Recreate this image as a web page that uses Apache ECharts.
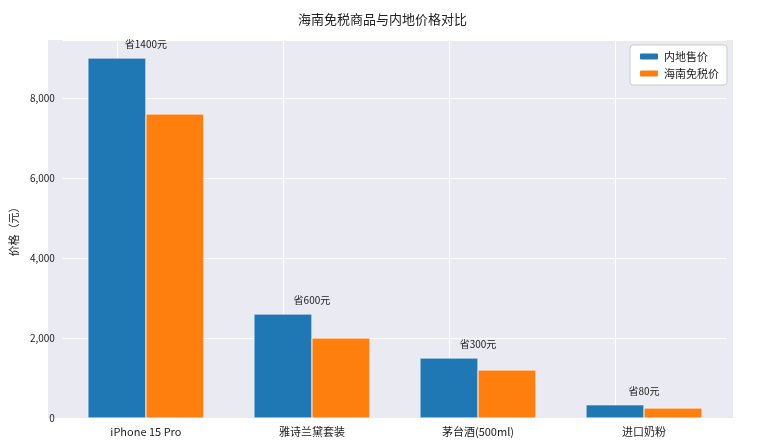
<!DOCTYPE html>
<html><head><meta charset="utf-8">
<script src="https://cdn.jsdelivr.net/npm/echarts@6/dist/echarts.min.js"></script>
<style>html,body{margin:0;background:#fff}#c{width:765px;height:444px}</style>
</head><body><div id="c"></div>
<script>
const categories = ['iPhone 15 Pro','雅诗兰黛套装','茅台酒(500ml)','进口奶粉'];
const domestic = [9000, 2600, 1500, 330];
const dutyFree = [7600, 2000, 1200, 250];
const savings = ['省1400元','省600元','省300元','省80元'];
const F = 'Noto Sans CJK SC';
const chart = echarts.init(document.getElementById('c'));
chart.setOption({
  animation:false,
  textStyle:{fontFamily:F},
  title:{text:'海南免税商品与内地价格对比',left:'center',top:8,textStyle:{fontSize:13,fontWeight:'normal',color:'#222',fontFamily:F}},
  graphic:[{type:'rect',z:-10,shape:{x:48,y:40,width:685,height:378},style:{fill:'#eaeaf2'}}],
  grid:{left:55,right:38,top:40,bottom:26},
  legend:{right:38,top:45,orient:'vertical',itemWidth:20,itemHeight:8,itemGap:6,
    backgroundColor:'#fff',borderColor:'#ccc',borderWidth:1,padding:[6,8],borderRadius:3,
    textStyle:{fontSize:11,color:'#222'},data:['内地售价','海南免税价']},
  xAxis:{type:'category',data:categories,axisLine:{show:false},axisTick:{show:false},
    axisLabel:{color:'#222',fontSize:11,margin:8},splitLine:{show:false}},
  yAxis:{type:'value',min:0,max:9450,interval:2000,name:'价格（元）',nameLocation:'middle',nameGap:38,
    nameTextStyle:{fontSize:11,color:'#222'},axisLine:{show:false},axisTick:{show:false},
    axisLabel:{color:'#222',fontSize:10,showMaxLabel:false},splitLine:{lineStyle:{color:'#fff',width:1}}},
  series:[
    {type:'bar',name:'内地售价',data:domestic,barWidth:58,barGap:'0%',z:3,
     itemStyle:{color:'#1f77b4',borderColor:'#fff',borderWidth:0.5},
     label:{show:true,position:'top',offset:[29,-4],color:'#222',fontSize:10,
       formatter:p=>savings[p.dataIndex]},
     markLine:{silent:true,symbol:'none',z:1,label:{show:false},lineStyle:{color:'#fff',type:'solid',width:1},
       data:categories.map(c=>({xAxis:c}))}},
    {type:'bar',name:'海南免税价',data:dutyFree,barWidth:58,z:3,
     itemStyle:{color:'#ff7f0e',borderColor:'#fff',borderWidth:0.5}}
  ]
});
</script></body></html>
